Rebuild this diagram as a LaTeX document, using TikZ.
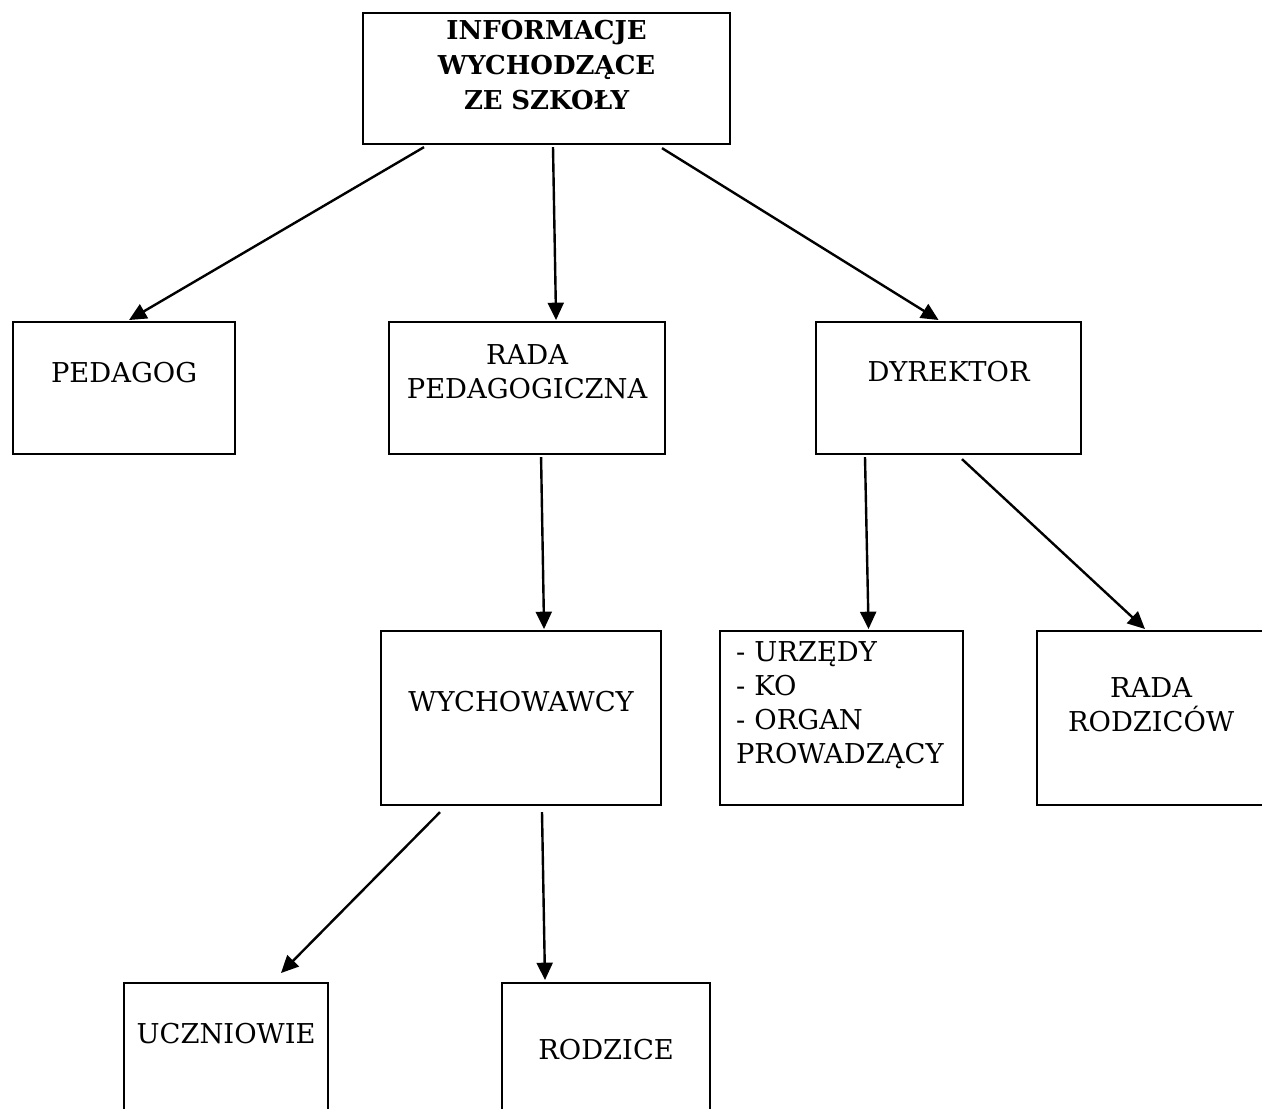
\documentclass[tikz,border=0pt]{standalone}
\usepackage{fontspec}
\setmainfont{DejaVu Serif}
\usetikzlibrary{arrows.meta, calc}
\newdimen\pxu
\pxu=0.75pt

\begin{document}
\begin{tikzpicture}[
    x=0.75pt, y=-0.75pt,
    >={Triangle[length=13pt, width=12pt]},
    every node/.style={inner sep=0pt, anchor=north west},
    box/.style={
      rectangle, draw=black, line width=1.6pt, align=center,
      font=\fontsize{20.5}{25.5}\selectfont
    },
    listbox/.style={box, align=left, inner xsep=16\pxu},
    headbox/.style={box, font=\fontsize{19.5}{26.25}\selectfont\bfseries},
    arrow/.style={->, line width=1.8pt}
  ]
  \useasboundingbox (0,0) rectangle (1262,1108);

  % ===== top =====
  \node[headbox, text width=367\pxu, text height=26\pxu, text depth=105\pxu]
    (info) at (362,12) {INFORMACJE\\WYCHODZĄCE\\ZE SZKOŁY};

  % ===== second row =====
  \node[box, text width=222\pxu, text height=60\pxu, text depth=72\pxu]
    (pedagog) at (12,321) {PEDAGOG};
  \node[box, text width=276\pxu, text height=42\pxu, text depth=90\pxu]
    (radaped) at (388,321) {RADA\\PEDAGOGICZNA};
  \node[box, text width=265\pxu, text height=59\pxu, text depth=73\pxu]
    (dyrektor) at (815,321) {DYREKTOR};

  \draw[arrow] ($(info.south west)+(62,2)$) -- ($(pedagog.north)+(5,-1)$);
  \draw[arrow] ($(info.south west)+(191,2)$) -- ($(radaped.north)+(29,-1)$);
  \draw[arrow] ($(info.south west)+(300,3)$) -- ($(dyrektor.north)+(-10,-1)$);

  % ===== third row =====
  \node[box, text width=280\pxu, text height=80\pxu, text depth=94\pxu]
    (wych) at (380,630) {WYCHOWAWCY};
  \node[listbox, text width=211\pxu, text height=30\pxu, text depth=144\pxu]
    (urzedy) at (719,630) {- URZĘDY\\- KO\\- ORGAN\\PROWADZĄCY};
  \node[box, text width=228\pxu, text height=66\pxu, text depth=108\pxu]
    (radarodz) at (1036,630) {RADA\\RODZICÓW};

  \draw[arrow] ($(radaped.south)+(14,2)$) -- ($(wych.north)+(23,-1)$);
  \draw[arrow] ($(dyrektor.south west)+(50,2)$) -- ($(urzedy.north)+(27,-1)$);
  \draw[arrow] ($(dyrektor.south west)+(147,4)$) -- ($(radarodz.north west)+(109,-1)$);

  % ===== bottom row =====
  \node[box, text width=204\pxu, text height=60\pxu, text depth=90\pxu]
    (uczniowie) at (123,982) {UCZNIOWIE};
  \node[box, text width=208\pxu, text height=76\pxu, text depth=74\pxu]
    (rodzice) at (501,982) {RODZICE};

  \draw[arrow] ($(wych.south west)+(60,6)$) -- ($(uczniowie.north west)+(158,-9)$);
  \draw[arrow] ($(wych.south west)+(162,6)$) -- ($(rodzice.north west)+(44,-2)$);

\end{tikzpicture}
\end{document}
